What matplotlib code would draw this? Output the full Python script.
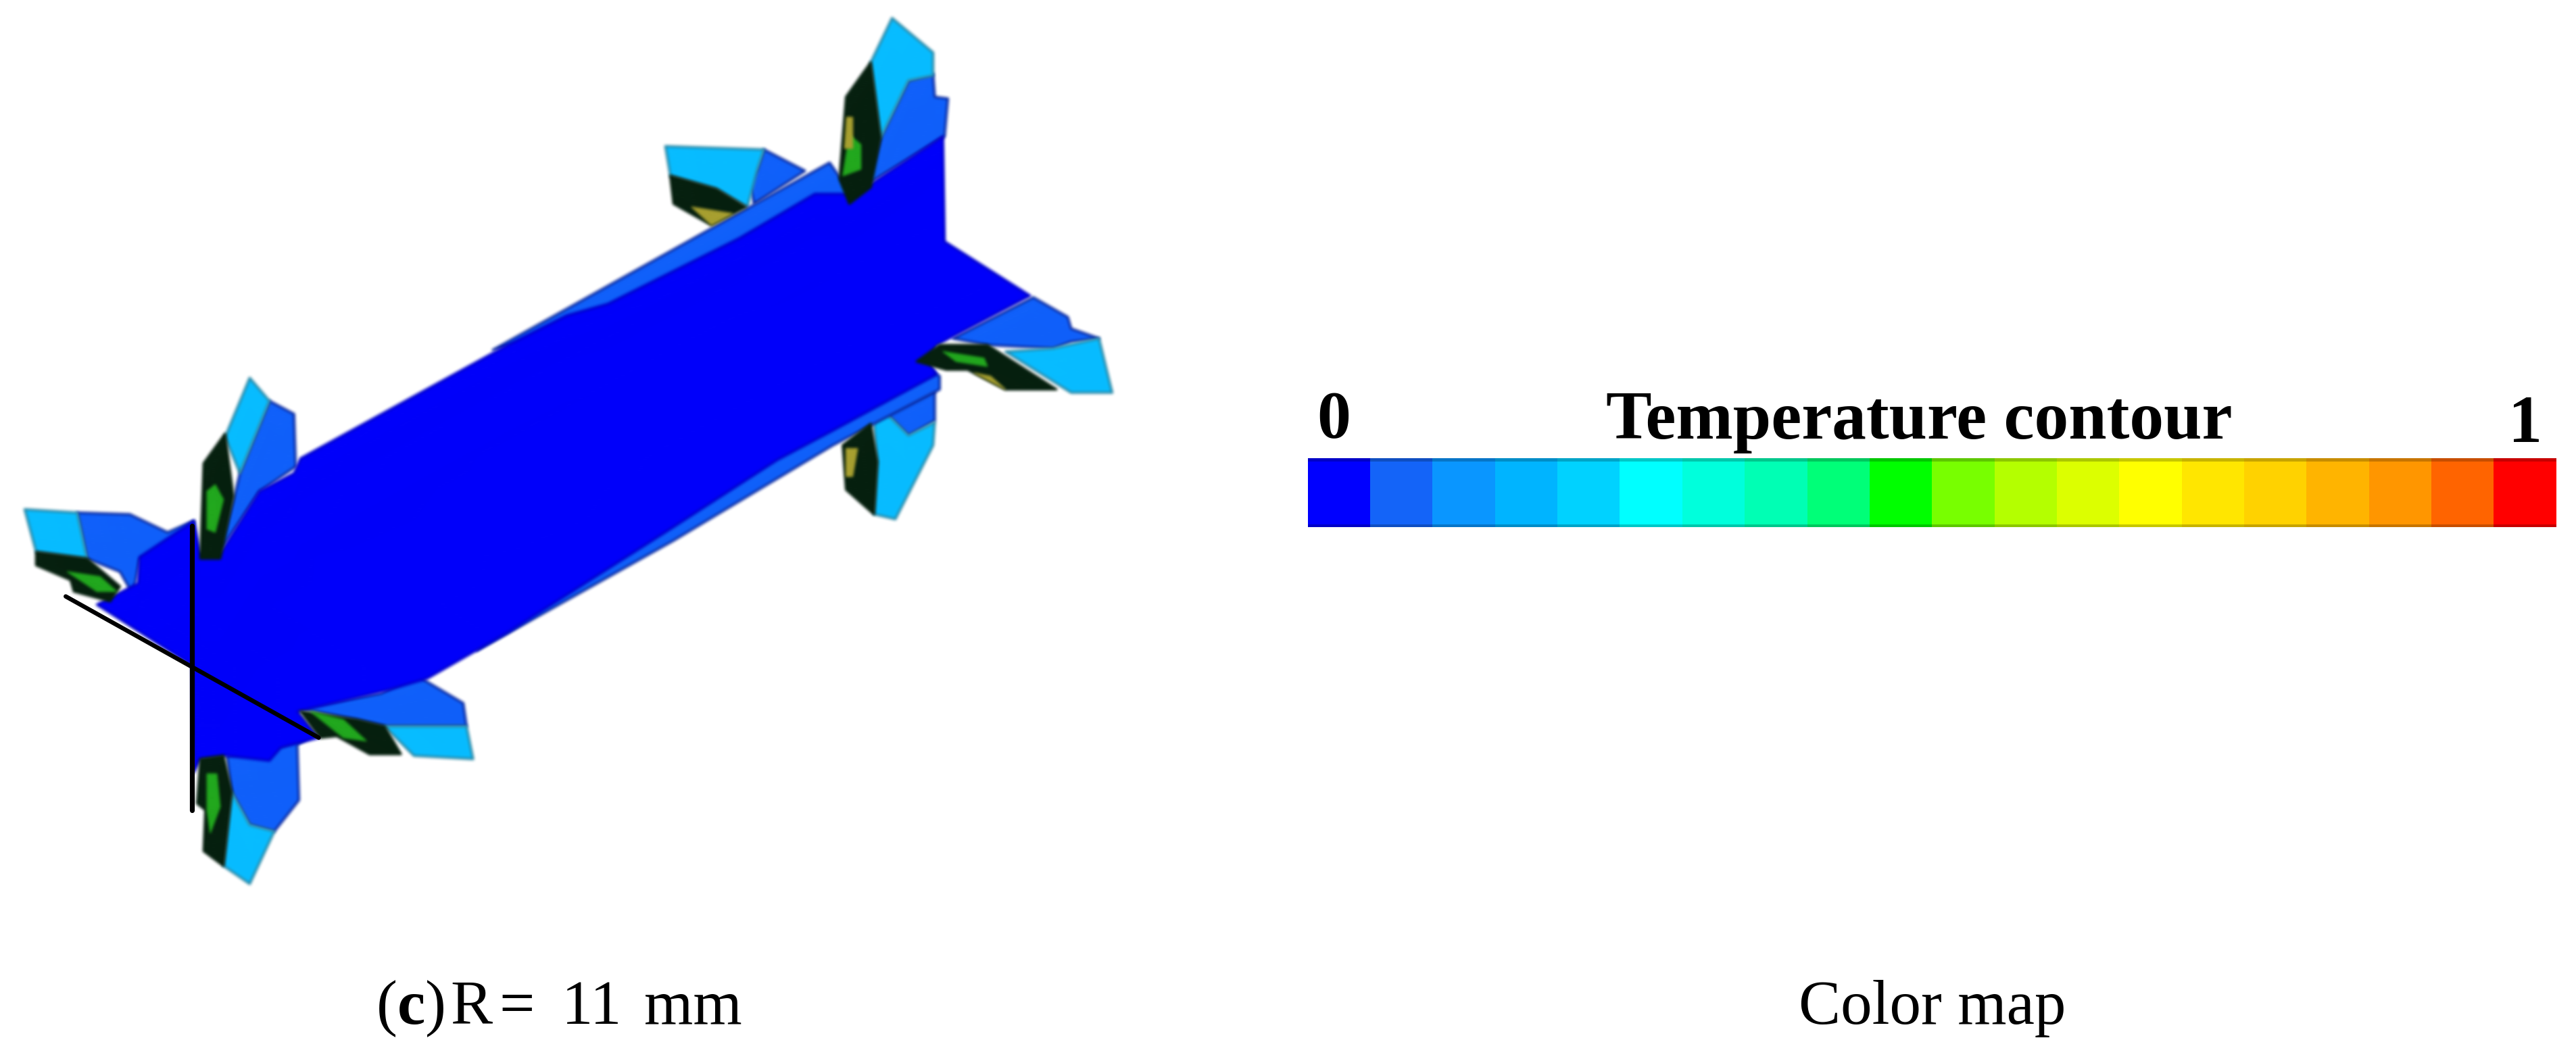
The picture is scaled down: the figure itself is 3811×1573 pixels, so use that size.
import numpy as np
import matplotlib
matplotlib.use('Agg')
import matplotlib.pyplot as plt
from matplotlib.colors import ListedColormap

# everything is laid out in the coordinates of the 1568x647 preview
WIDTH, HEIGHT = 1568, 647

C_BODY = '#0000fa'
C_MED = '#1060fa'
C_CYAN = '#08bcff'
C_DARK = '#06200f'
C_GREEN = '#22a81e'
C_OLIVE = '#a8a030'
C_EDGE_B = '#0a2aa0'
C_EDGE_C = '#2a8aa8'

body = [(59, 368), (84, 355), (85, 339), (118, 317), (122, 337), (134, 337), (158, 299), (179, 288),
        (183, 279), (309, 210), (345, 192), (370, 185), (408, 166), (450, 145), (496, 118), (521, 118),
        (574, 83), (575, 147), (627, 180), (570, 210), (565, 219), (570, 228), (507, 262), (473, 280),
        (408, 322), (309, 385), (260, 413), (236, 420), (181, 433), (194, 449), (171, 455), (164, 463),
        (138, 460), (122, 462), (118, 470), (117, 405)]
strip_upper = [(300, 213), (505, 99), (521, 122), (496, 122), (450, 149), (408, 170), (370, 191), (330, 205)]
strip_lower = [(572, 229), (568, 226), (507, 258), (471, 275), (412, 315), (300, 385), (290, 396), (410, 329),
               (507, 271), (572, 237)]

fins_medium = [
    [(164, 244), (179, 252), (180, 284), (158, 299), (134, 335), (142, 305), (146, 288)],
    [(47, 312), (79, 313), (102, 324), (118, 317), (118, 331), (85, 340), (81, 362), (73, 348), (53, 340)],
    [(183, 431), (232, 422), (254, 411), (260, 415), (282, 428), (284, 442), (234, 442), (217, 438)],
    [(138, 460), (165, 456), (190, 448), (181, 453), (182, 487), (167, 506), (152, 502), (141, 482)],
    [(568, 45), (569, 59), (577, 60), (575, 83), (528, 112), (536, 84), (553, 49)],
    [(461, 103), (465, 91), (490, 104), (459, 124), (456, 111)],
    [(580, 206), (629, 181), (650, 193), (652, 200), (669, 206), (652, 208), (641, 212), (601, 210)],
    [(540, 252), (569, 238), (569, 256), (553, 265)],
]
fins_cyan = [
    [(152, 230), (164, 244), (146, 288), (137, 266)],
    [(15, 310), (47, 312), (53, 340), (22, 336)],
    [(234, 442), (284, 442), (288, 462), (252, 460)],
    [(141, 482), (152, 502), (167, 506), (152, 538), (136, 527)],
    [(543, 11), (568, 32), (568, 46), (553, 49), (536, 84), (530, 38)],
    [(405, 89), (465, 91), (461, 103), (455, 126), (436, 115), (408, 107)],
    [(641, 212), (669, 206), (677, 239), (652, 239), (612, 214)],
    [(532, 257), (540, 252), (553, 265), (569, 257), (568, 271), (545, 316), (532, 313), (534, 281)],
]
fins_dark = [
    [(124, 282), (137, 264), (142, 302), (134, 340), (122, 340)],
    [(22, 336), (53, 340), (73, 357), (67, 366), (45, 360), (43, 353), (22, 344)],
    [(183, 433), (217, 438), (234, 442), (244, 459), (225, 459), (205, 448), (195, 449)],
    [(122, 462), (136, 460), (141, 482), (136, 527), (124, 518), (125, 493), (120, 489)],
    [(530, 38), (515, 59), (511, 109), (517, 124), (530, 114), (536, 84)],
    [(408, 107), (436, 115), (454, 126), (433, 137), (410, 124)],
    [(558, 220), (572, 210), (601, 210), (643, 237), (612, 237), (589, 225), (576, 225)],
    [(513, 271), (530, 258), (534, 281), (532, 313), (515, 298)],
]
fins_green = [
    [(126, 299), (131, 295), (136, 304), (131, 324), (126, 322)],
    [(41, 348), (61, 351), (71, 360), (59, 360)],
    [(189, 433), (209, 438), (223, 451), (209, 449)],
    [(126, 471), (132, 471), (134, 491), (128, 507), (126, 493)],
    [(517, 82), (524, 88), (524, 103), (513, 107)],
    [(574, 214), (599, 218), (601, 223), (582, 220)],
]
fins_olive = [
    [(515, 71), (519, 71), (519, 90), (514, 90)],
    [(421, 126), (446, 130), (433, 137)],
    [(593, 227), (603, 229), (612, 237)],
    [(515, 273), (522, 273), (519, 290), (515, 290)],
]

line_vertical = [(117, 320), (117, 493)]
line_diagonal = [(40, 363), (194, 449)]

# colour bar
bar_values = np.arange(20)
bar_colors = ['#0000ff', '#1464f8', '#0a96ff', '#00b4ff', '#00d2ff', '#00ffff', '#00ffdc', '#00ffb4',
              '#00ff78', '#00ff00', '#78ff00', '#b4ff00', '#dcff00', '#ffff00', '#ffe600', '#ffd200',
              '#ffb400', '#ff9600', '#ff6400', '#ff0000']
bar_x0, bar_x1 = 796, 1556
bar_y0, bar_y1 = 279, 321

title_bar = 'Temperature contour'
label_low = '0'
label_high = '1'
caption_bold = '(c)'
caption_left = ['R', '=', '11', 'mm']
caption_right = 'Color map'


def box(a, n, axis):
    c = np.insert(np.cumsum(a, axis=axis), 0, 0, axis=axis)
    hi = np.take(c, np.arange(n, c.shape[axis]), axis=axis)
    lo = np.take(c, np.arange(0, c.shape[axis] - n), axis=axis)
    out = (hi - lo) / n
    return np.pad(out, [(n // 2, n - 1 - n // 2) if i == axis else (0, 0) for i in range(3)])


def soften(img, dpi):
    # picture in the source is an upscaled bitmap, so blur the shapes a bit
    n, pad = 5, 8
    a = np.pad(img, ((pad, pad), (pad, pad), (0, 0)))
    # premultiplied so the white around does not bleed in
    a[..., :3] *= a[..., 3:]
    for axis in (0, 1):
        for _ in range(2):
            a = box(a, n, axis)
    alpha = np.clip(a[..., 3:], 1e-4, 1)
    a[..., :3] = np.clip(a[..., :3] / alpha, 0, 1)
    return a, -pad, -pad


def poly(ax, pts, color, edge=None, lw=2.5):
    xs = [p[0] for p in pts]
    ys = [p[1] for p in pts]
    for art in ax.fill(xs, ys, facecolor=color, edgecolor=edge if edge else color, linewidth=lw, joinstyle='round'):
        art.set_agg_filter(soften)


fig = plt.figure(figsize=(38.11, 15.73), dpi=100, facecolor='white')
ax = fig.add_axes([0, 0, 1, 1])

for p in fins_medium:
    poly(ax, p, C_MED, C_EDGE_B)
for p in fins_cyan:
    poly(ax, p, C_CYAN, C_EDGE_C)
poly(ax, strip_upper, C_MED, C_EDGE_B)
poly(ax, strip_lower, C_MED, C_EDGE_B)
poly(ax, body, C_BODY, '#0000c8')
for p in fins_dark:
    poly(ax, p, C_DARK)
for p in fins_green:
    poly(ax, p, C_GREEN, lw=1)
for p in fins_olive:
    poly(ax, p, C_OLIVE, lw=1)

for seg, w in ((line_vertical, 5.2), (line_diagonal, 4.6)):
    ax.plot([seg[0][0], seg[1][0]], [seg[0][1], seg[1][1]], color='black', lw=w, solid_capstyle='round')

edges = np.linspace(bar_x0, bar_x1, len(bar_values) + 1)
ax.pcolormesh(edges, [bar_y0, bar_y1], bar_values.reshape(1, -1), cmap=ListedColormap(bar_colors),
              vmin=-0.5, vmax=19.5)
# the bar is darker along its top and bottom rim
ax.fill_between([bar_x0, bar_x1], bar_y0, bar_y0 + 2, color='black', alpha=0.22, lw=0)
ax.fill_between([bar_x0, bar_x1], bar_y1 - 2, bar_y1, color='black', alpha=0.22, lw=0)

serif = 'Liberation Serif'
ax.text(1168, 267, title_bar, family=serif, weight='bold', fontsize=73, ha='center', va='baseline')
ax.text(812, 266, label_low, family=serif, weight='bold', fontsize=72, ha='center', va='baseline')
ax.text(1537, 269, label_high, family=serif, weight='bold', fontsize=72, ha='center', va='baseline')

ax.text(229, 623, caption_bold[0], family=serif, fontsize=67, va='baseline')
ax.text(241.7, 623, caption_bold[1], family=serif, weight='bold', fontsize=67, va='baseline')
ax.text(258.6, 623, caption_bold[2], family=serif, fontsize=67, va='baseline')
for x, s in zip((274, 304, 342, 392), caption_left):
    ax.text(x, 623, s, family=serif, fontsize=67, va='baseline')
ax.text(1176, 623, caption_right, family=serif, fontsize=67, ha='center', va='baseline')

ax.set_xlim(0, WIDTH)
ax.set_ylim(HEIGHT, 0)
ax.axis('off')

fig.savefig('out.png', dpi=100, facecolor='white')
